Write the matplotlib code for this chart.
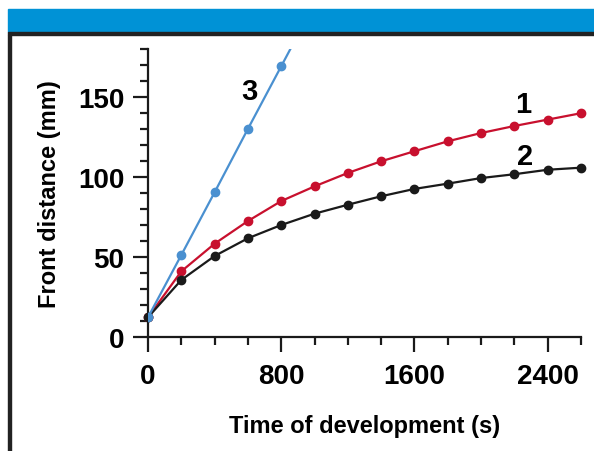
import matplotlib
matplotlib.use("Agg")
import matplotlib.pyplot as plt
from matplotlib.patches import Rectangle
from matplotlib.ticker import MultipleLocator

plt.rcParams['font.family'] = ['Liberation Sans', 'DejaVu Sans']
plt.rcParams['font.weight'] = 'bold'

# time of development (s)
t = [0, 200, 400, 600, 800, 1000, 1200, 1400, 1600, 1800, 2000, 2200, 2400, 2600]
# front distance (mm)
curve1 = [12, 40.8, 58.1, 72.3, 84.8, 94.0, 102.4, 109.7, 116.0, 122.2, 127.4, 131.8, 135.8, 139.8]
curve2 = [12, 35.4, 50.4, 61.5, 69.8, 76.9, 82.5, 87.8, 92.4, 95.7, 99.2, 101.6, 104.4, 105.7]
t3 = [0, 200, 400, 600, 800, 1000]
curve3 = [12, 51.0, 90.3, 130.0, 169.2, 208.5]

red = '#C8102E'
black = '#1a1a1a'
blue = '#4A90D0'

W, H = 594, 452
fig = plt.figure(figsize=(W / 100, H / 100), dpi=100)

# header band and frame
fig.patches.append(Rectangle((8 / W, 1 - 33 / H), 1 - 8 / W, 23 / H,
                             transform=fig.transFigure, color='#0092D6', zorder=0))
fig.patches.append(Rectangle((8 / W, 1 - 36 / H), 1 - 8 / W, 3 / H,
                             transform=fig.transFigure, color='#222222', zorder=0))
fig.patches.append(Rectangle((8 / W, 0), 3 / W, 1 - 36 / H,
                             transform=fig.transFigure, color='#222222', zorder=0))

ax = fig.add_axes([148 / W, 114.5 / H, (581 - 148) / W, (402 - 114.5) / H])
ax.patch.set_alpha(0)

ms = 6
ax.plot(t, curve1, color=red, lw=1.6, marker='o', ms=ms, clip_on=False)
ax.plot(t, curve2, color=black, lw=1.6, marker='o', ms=ms, clip_on=False)
ax.plot(t3, curve3, color=blue, lw=1.6, marker='o', ms=ms, zorder=3)

ax.set_xlim(0, 2600)
ax.set_ylim(0, 180)

for s in ['top', 'right']:
    ax.spines[s].set_visible(False)
for s in ['left', 'bottom']:
    ax.spines[s].set_linewidth(1.6)
    ax.spines[s].set_color(black)

ax.xaxis.set_major_locator(MultipleLocator(800))
ax.xaxis.set_minor_locator(MultipleLocator(200))
ax.yaxis.set_major_locator(MultipleLocator(50))
ax.yaxis.set_minor_locator(MultipleLocator(10))
ax.tick_params(which='major', length=11, width=1.6, labelsize=20, color=black, pad=6)
ax.tick_params(axis='x', which='major', pad=8)
ax.tick_params(which='minor', length=6, width=1.6, color=black)

ax.set_xlabel('Time of development (s)', fontsize=17, fontweight='bold', labelpad=18)
ax.set_ylabel('Front distance (mm)', fontsize=17, fontweight='bold', labelpad=12)

ax.text(608, 153.7, '3', fontsize=21, fontweight='bold', ha='center', va='center')
ax.text(2252, 145.6, '1', fontsize=21, fontweight='bold', ha='center', va='center')
ax.text(2264, 113, '2', fontsize=21, fontweight='bold', ha='center', va='center')

fig.savefig('out.png', dpi=100)
